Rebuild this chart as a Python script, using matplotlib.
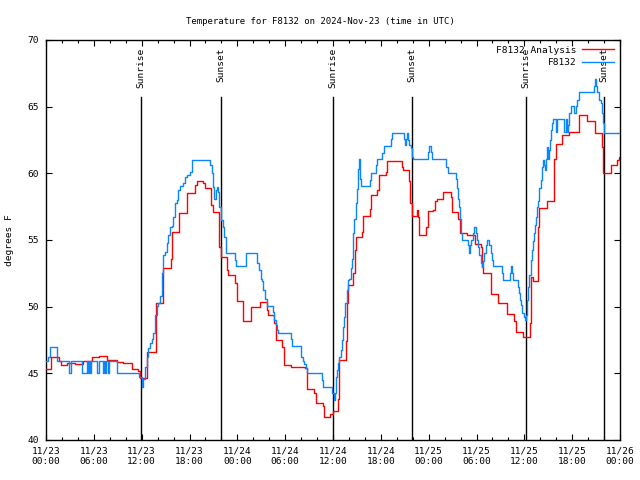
import datetime as dt

import matplotlib
matplotlib.use("Agg")
import matplotlib.pyplot as plt
import matplotlib.dates as mdates

# hours since 2024-11-23 00:00 UTC, temperature in F (step data)
analysis_hours = [0, 0.63, 1.63, 1.84, 2.67, 3.64, 4.68, 5.73, 6.69, 7.61, 8.87, 9.62,
                  10.75, 11.58, 11.79, 12.63, 13.8, 14.71, 15.64, 15.84, 16.68, 17.72,
                  18.69, 18.9, 19.66, 19.94, 20.7, 20.91, 21.74, 21.95, 22.67, 22.87,
                  23.71, 24.0, 24.75, 25.72, 26.84, 27.68, 27.88, 28.64, 28.81, 29.64,
                  29.85, 30.7, 32.49, 32.78, 33.62, 33.87, 34.71, 34.87, 35.62, 36.04,
                  36.59, 36.75, 37.59, 37.72, 37.92, 38.55, 38.76, 38.89, 39.6, 39.73,
                  40.64, 40.77, 41.56, 41.81, 42.61, 42.81, 44.69, 44.82, 45.57, 45.72,
                  45.87, 46.5, 46.7, 46.83, 47.67, 47.96, 48.58, 48.8, 49.01, 49.76,
                  50.76, 50.89, 51.72, 51.93, 52.77, 53.81, 54.57, 54.73, 54.85, 55.78,
                  56.74, 57.79, 58.74, 58.92, 59.8, 60.71, 60.84, 61.05, 61.75, 61.88,
                  62.81, 63.76, 63.94, 64.76, 65.6, 66.86, 67.82, 68.87, 69.78, 69.91,
                  70.83, 71.6, 71.85, 72.0]
analysis_temps = [45.3, 46.2, 45.9, 45.6, 45.75, 45.7, 45.9, 46.2, 46.3, 46.0, 45.85, 45.75,
                  45.3, 45.2, 44.65, 46.6, 50.25, 52.9, 53.6, 55.6, 57.05, 58.5,
                  59.1, 59.4, 59.25, 58.9, 57.6, 57.1, 54.5, 53.7, 52.75, 52.4,
                  51.8, 50.4, 48.9, 50.0, 50.35, 49.75, 49.4, 48.75, 47.5, 47.0,
                  45.6, 45.5, 45.4, 43.8, 43.5, 42.75, 42.55, 41.75, 41.95, 42.2,
                  43.1, 46.0, 47.45, 50.25, 51.6, 52.5, 54.25, 55.2, 55.6, 56.8,
                  57.3, 58.4, 58.75, 59.9, 60.1, 60.9, 60.5, 60.25, 59.4, 57.75,
                  56.8, 57.25, 56.7, 55.4, 56.0, 57.2, 57.25, 57.95, 58.1, 58.6,
                  58.25, 57.1, 56.55, 55.5, 55.35, 54.7, 54.45, 53.0, 52.5, 50.95,
                  50.25, 49.45, 48.9, 48.1, 47.7, 48.75, 52.25, 51.95, 56.0, 57.4,
                  57.9, 61.05, 62.2, 62.9, 63.1, 64.4, 63.9, 63.0, 62.0, 60.0,
                  60.6, 61.0, 61.2, 61.2]

station_hours = [0, 0.25, 0.5, 1.34, 1.42, 2.85, 3.1, 4.48, 5.1, 5.33, 5.43, 5.58, 5.68,
                 6.44, 6.69, 7.15, 7.25, 7.46, 7.56, 7.78, 7.88, 8.94, 11.67, 12.0, 12.2,
                 12.42, 12.63, 12.83, 13.05, 13.26, 13.46, 13.67, 13.89, 14.09, 14.3,
                 14.51, 14.71, 14.93, 15.14, 15.34, 15.55, 15.77, 15.97, 16.18, 16.4,
                 16.6, 16.81, 17.22, 17.44, 17.65, 18.06, 18.28, 20.57, 20.79, 20.99,
                 21.11, 21.29, 21.41, 21.61, 21.74, 21.95, 22.17, 22.37, 22.58, 23.71,
                 23.83, 25.09, 26.5, 26.72, 26.93, 27.13, 27.26, 27.47, 27.68, 28.51,
                 28.64, 28.81, 29.01, 29.14, 30.73, 30.9, 31.99, 32.2, 32.36, 32.61,
                 32.7, 34.58, 34.71, 35.91, 36.13, 36.29, 36.38, 36.54, 36.67, 36.79,
                 36.97, 37.09, 37.22, 37.38, 37.51, 37.72, 37.84, 38.04, 38.22, 38.35,
                 38.47, 38.55, 38.67, 38.85, 38.97, 39.1, 39.26, 39.39, 39.51, 40.64,
                 40.77, 41.36, 41.56, 42.19, 42.4, 43.24, 43.36, 44.9, 45.03, 45.15,
                 45.25, 45.37, 45.53, 45.75, 45.95, 46.07, 47.95, 48.08, 48.23, 48.38,
                 50.17, 50.39, 51.43, 51.6, 51.72, 51.85, 51.93, 52.02, 52.14, 52.9,
                 53.06, 53.19, 53.31, 53.52, 53.72, 53.9, 54.02, 54.23, 54.35, 54.53,
                 54.73, 54.85, 54.98, 55.15, 55.28, 55.61, 55.82, 55.98, 56.11, 57.24,
                 57.36, 58.2, 58.33, 58.49, 58.62, 59.17, 59.33, 59.46, 59.58, 59.75,
                 60.0, 60.08, 60.25, 60.37, 60.5, 60.63, 60.8, 60.93, 61.05, 61.21,
                 61.34, 61.46, 61.63, 61.75, 61.88, 62.05, 62.18, 62.3, 62.47, 62.59,
                 62.72, 62.88, 63.01, 63.13, 63.22, 63.35, 63.51, 63.64, 63.98, 64.1,
                 65.02, 65.2, 65.4, 65.52, 65.65, 65.82, 66.23, 66.45, 66.64, 66.86,
                 68.74, 68.87, 68.99, 69.15, 69.37, 69.58, 69.7, 69.91, 70.04, 72.0]
station_temps = [45.95, 46.25, 47.0, 46.75, 45.95, 45.0, 45.95, 45.0, 45.95, 45.0, 45.95, 45.0, 45.95,
                 45.0, 45.95, 45.0, 45.95, 45.0, 45.95, 45.0, 45.95, 45.0, 44.75, 44.0, 44.6,
                 45.5, 46.25, 46.9, 47.25, 47.6, 48.05, 49.4, 50.05, 50.25, 50.8,
                 52.5, 53.9, 54.1, 54.75, 55.4, 55.95, 56.05, 56.7, 57.75, 58.0,
                 58.75, 59.05, 59.25, 59.7, 59.9, 60.1, 61.0, 60.6, 60.0, 59.0,
                 58.05, 58.75, 59.0, 58.6, 57.5, 56.5, 55.95, 55.25, 54.0, 53.5,
                 53.05, 54.0, 53.25, 52.75, 52.05, 51.9, 51.25, 50.6, 50.05, 49.6,
                 49.0, 48.6, 48.25, 48.0, 47.6, 47.05, 46.25, 45.95, 45.7, 45.4,
                 45.0, 44.5, 44.0, 43.5, 43.0, 43.5, 44.75, 45.25, 45.75, 46.25,
                 46.75, 47.5, 48.5, 49.25, 50.3, 51.25, 52.0, 52.1, 52.9, 53.55,
                 54.6, 55.5, 56.55, 57.75, 58.8, 60.3, 61.05, 59.6, 59.05, 59.5,
                 60.0, 60.6, 61.05, 61.5, 62.05, 62.55, 63.0, 62.6, 62.1, 62.6,
                 63.0, 62.5, 62.1, 61.9, 61.25, 61.05, 61.6, 62.05, 61.6, 61.05,
                 60.5, 60.05, 59.6, 58.9, 58.1, 57.45, 56.55, 55.5, 55.0, 54.6,
                 54.05, 54.6, 55.0, 55.5, 56.0, 55.5, 55.0, 54.45, 53.9, 53.25,
                 53.0, 53.4, 54.0, 54.6, 55.0, 54.6, 54.0, 53.5, 53.05, 52.5,
                 52.0, 52.5, 53.05, 52.5, 52.0, 51.5, 51.0, 50.5, 50.1, 49.55,
                 49.25, 49.0, 49.4, 50.5, 51.5, 52.4, 53.5, 54.25, 54.9, 55.5,
                 56.1, 56.75, 57.5, 57.9, 58.9, 59.5, 60.5, 61.0, 60.6, 60.25,
                 61.1, 62.0, 61.1, 61.75, 62.5, 63.25, 63.75, 64.05, 63.1, 64.05,
                 63.1, 64.05, 63.1, 63.6, 64.5, 65.05, 64.5, 65.05, 65.5, 66.1,
                 66.55, 67.05, 66.55, 66.1, 65.5, 65.25, 64.5, 63.75, 63.0, 63.0]

sun_hours = [11.95, 21.95, 36.02, 45.95, 60.15, 70.02]
sun_labels = ["Sunrise", "Sunset", "Sunrise", "Sunset", "Sunrise", "Sunset"]

base = dt.datetime(2024, 11, 23)


def to_times(hours):
    return [base + dt.timedelta(hours=h) for h in hours]


plt.rcParams["font.family"] = ["DejaVu Sans Mono"]
plt.rcParams["font.size"] = 6.6

fig = plt.figure(figsize=(6.4, 4.8), dpi=100)
ax = fig.add_axes([46 / 640, 40 / 480, 574 / 640, 400 / 480])

for h, lab in zip(sun_hours, sun_labels):
    t = base + dt.timedelta(hours=h)
    ax.plot([t, t], [40, 65.75], color="black", lw=1.0, zorder=1)
    ax.text(t, 69.4, lab, rotation=90, ha="center", va="top", fontsize=6.8, zorder=2)

ax.plot(to_times(analysis_hours), analysis_temps, drawstyle="steps-post",
        color="#ff0000", lw=1.0, label="F8132 Analysis", zorder=3)
ax.plot(to_times(station_hours), station_temps, drawstyle="steps-post",
        color="#0a84ff", lw=1.0, label="F8132", zorder=4)

ax.set_xlim(base, base + dt.timedelta(hours=72))
ax.set_ylim(40, 70)
ax.set_yticks(range(40, 71, 5))
ax.xaxis.set_major_locator(mdates.HourLocator(byhour=range(0, 24, 6)))
ax.xaxis.set_minor_locator(mdates.HourLocator(interval=2))
ax.xaxis.set_major_formatter(mdates.DateFormatter("%m/%d\n%H:%M"))
ax.tick_params(which="both", direction="in", top=True, right=True, labelsize=6.8)
ax.tick_params(which="major", length=4, width=0.8, pad=5)
ax.tick_params(which="minor", length=2, width=0.8)
for s in ax.spines.values():
    s.set_linewidth(1.0)

ax.set_ylabel("degrees F", fontsize=6.8, labelpad=10)
fig.suptitle("Temperature for F8132 on 2024-Nov-23 (time in UTC)", y=0.965, fontsize=6.5)

leg = ax.legend(loc="upper right", frameon=False, markerfirst=False, handlelength=3.4,
                fontsize=6.8, borderaxespad=0.2, labelspacing=0.35, handletextpad=0.6)
for t in leg.get_texts():
    t.set_ha("right")

fig.savefig("out.png", dpi=100)
